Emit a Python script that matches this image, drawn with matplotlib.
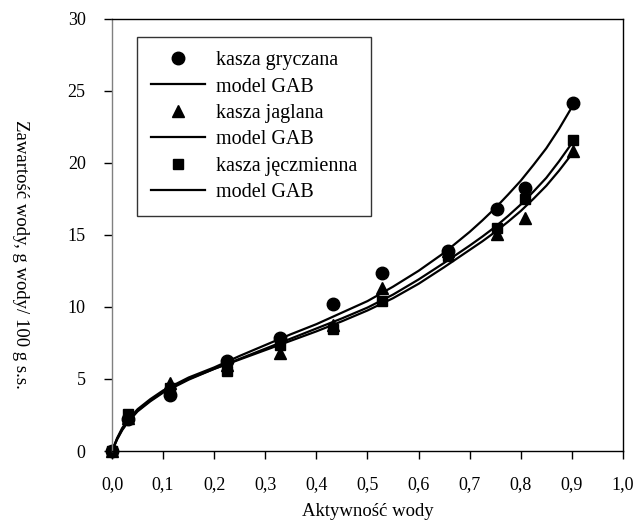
import numpy as np
import matplotlib
matplotlib.use("Agg")
from matplotlib import pyplot as plt
from matplotlib.ticker import FuncFormatter

plt.rcParams['font.family'] = ['Liberation Serif', 'DejaVu Serif']

# aktywnosc wody (punkty pomiarowe)
aw = [0.0, 0.032, 0.113, 0.225, 0.328, 0.432, 0.529, 0.658, 0.753, 0.809, 0.903]
gryczana = [0.0, 2.2, 3.9, 6.25, 7.83, 10.2, 12.35, 13.85, 16.8, 18.24, 24.15]
jaglana = [0.0, 2.3, 4.75, 6.0, 6.8, 8.75, 11.3, 13.9, 15.07, 16.16, 20.8]
jeczmienna = [0.0, 2.55, 4.4, 5.55, 7.36, 8.45, 10.4, 13.5, 15.5, 17.48, 21.6]

# krzywe modelu GAB
aw_gab = [0.0, 0.01, 0.02, 0.03, 0.05, 0.075, 0.1, 0.15, 0.2, 0.25, 0.3, 0.35,
          0.4, 0.45, 0.5, 0.55, 0.6, 0.65, 0.7, 0.725, 0.75, 0.775, 0.8,
          0.825, 0.85, 0.875, 0.9, 0.905]
gab_gryczana = [0.0, 0.9, 1.6, 2.1, 2.9, 3.6, 4.2, 5.1, 5.8, 6.6, 7.35, 8.1,
                8.8, 9.6, 10.4, 11.4, 12.5, 13.75, 15.2, 16.0, 16.85, 17.78, 18.75,
                19.85, 21.0, 22.35, 23.85, 24.15]
gab_jaglana = [0.0, 0.85, 1.5, 2.0, 2.8, 3.5, 4.1, 5.0, 5.7, 6.35, 7.0, 7.65,
               8.3, 9.0, 9.75, 10.6, 11.6, 12.75, 13.95, 14.55, 15.2, 15.9, 16.65,
               17.5, 18.4, 19.45, 20.6, 20.85]
gab_jeczmienna = [0.0, 0.8, 1.45, 1.95, 2.75, 3.45, 4.05, 4.95, 5.7, 6.4, 7.1, 7.8,
                  8.5, 9.2, 9.95, 10.85, 11.9, 13.05, 14.25, 14.88, 15.55, 16.3, 17.1,
                  18.0, 18.95, 20.1, 21.35, 21.6]

fig = plt.figure(figsize=(6.35, 5.30), dpi=100)
ax = fig.add_axes([0.1764, 0.149, 0.8046, 0.816])

ms = 9
lw = 1.6
ax.plot(aw, gryczana, 'o', color='black', markersize=ms, clip_on=False, label='kasza gryczana')
ax.plot(aw_gab, gab_gryczana, '-', color='black', lw=lw, label='model GAB')
ax.plot(aw, jaglana, '^', color='black', markersize=ms, clip_on=False, label='kasza jaglana')
ax.plot(aw_gab, gab_jaglana, '-', color='black', lw=lw, label='model GAB')
ax.plot(aw, jeczmienna, 's', color='black', markersize=ms - 1.5, clip_on=False,
        label='kasza jęczmienna')
ax.plot(aw_gab, gab_jeczmienna, '-', color='black', lw=lw, label='model GAB')

ax.set_xlim(0, 1.0)
ax.set_ylim(0, 30)
ax.set_xticks(np.arange(0, 1.01, 0.1))
ax.set_yticks(range(0, 31, 5))
ax.xaxis.set_major_formatter(FuncFormatter(lambda v, p: f"{v:.1f}".replace('.', ',')))
ax.tick_params(axis='both', direction='out', length=6, width=1, labelsize=13, colors='black')
ax.tick_params(axis='x', pad=12)
ax.tick_params(axis='y', pad=13)

for s in ['top', 'right', 'bottom']:
    ax.spines[s].set_color('black')
    ax.spines[s].set_linewidth(1)
ax.spines['left'].set_color('#808080')
ax.spines['left'].set_linewidth(1)

ax.set_xlabel('Aktywność wody', fontsize=13.5, labelpad=7)
fig.text(0.032, 0.52, 'Zawartość wody, g wody/ 100 g s.s.', rotation=270,
         fontsize=13.5, ha='center', va='center')

leg = ax.legend(loc='upper left', bbox_to_anchor=(137 / 635, 1 - 37 / 530),
                bbox_transform=fig.transFigure, fontsize=14.5, frameon=True,
                fancybox=False, edgecolor='black', handlelength=2.7,
                labelspacing=0.36, borderpad=0.7, handletextpad=0.5,
                borderaxespad=0)
leg.get_frame().set_linewidth(1)

fig.savefig('out.png', dpi=100)
